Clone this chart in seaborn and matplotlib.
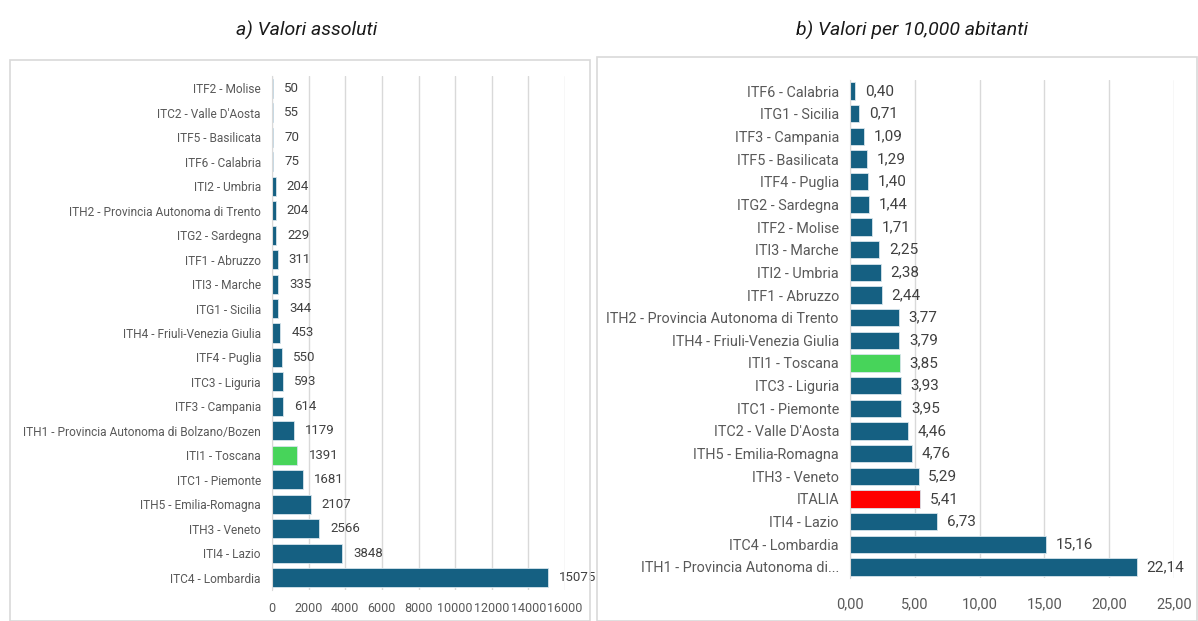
import matplotlib
matplotlib.use("Agg")
import matplotlib.pyplot as plt
from matplotlib.patches import Rectangle
import seaborn as sns
import pandas as pd

# a) absolute values
abs_regions = ['ITF2 - Molise', "ITC2 - Valle D'Aosta", 'ITF5 - Basilicata', 'ITF6 - Calabria',
               'ITI2 - Umbria', 'ITH2 - Provincia Autonoma di Trento', 'ITG2 - Sardegna',
               'ITF1 - Abruzzo', 'ITI3 - Marche', 'ITG1 - Sicilia', 'ITH4 - Friuli-Venezia Giulia',
               'ITF4 - Puglia', 'ITC3 - Liguria', 'ITF3 - Campania',
               'ITH1 - Provincia Autonoma di Bolzano/Bozen', 'ITI1 - Toscana', 'ITC1 - Piemonte',
               'ITH5 - Emilia-Romagna', 'ITH3 - Veneto', 'ITI4 - Lazio', 'ITC4 - Lombardia']
abs_values = [50, 55, 70, 75, 204, 204, 229, 311, 335, 344, 453, 550, 593, 614,
              1179, 1391, 1681, 2107, 2566, 3848, 15075]

# b) values per 10,000 inhabitants
rel_regions = ['ITF6 - Calabria', 'ITG1 - Sicilia', 'ITF3 - Campania', 'ITF5 - Basilicata',
               'ITF4 - Puglia', 'ITG2 - Sardegna', 'ITF2 - Molise', 'ITI3 - Marche',
               'ITI2 - Umbria', 'ITF1 - Abruzzo', 'ITH2 - Provincia Autonoma di Trento',
               'ITH4 - Friuli-Venezia Giulia', 'ITI1 - Toscana', 'ITC3 - Liguria',
               'ITC1 - Piemonte', "ITC2 - Valle D'Aosta", 'ITH5 - Emilia-Romagna',
               'ITH3 - Veneto', 'ITALIA', 'ITI4 - Lazio', 'ITC4 - Lombardia',
               'ITH1 - Provincia Autonoma di...']
rel_values = [0.40, 0.71, 1.09, 1.29, 1.40, 1.44, 1.71, 2.25, 2.38, 2.44, 3.77, 3.79,
              3.85, 3.93, 3.95, 4.46, 4.76, 5.29, 5.41, 6.73, 15.16, 22.14]

BLUE = '#156082'
GREEN = '#47d45a'
RED = '#ff0000'
TXT = '#595959'
GRID = '#d9d9d9'

def colour(name):
    if name == 'ITI1 - Toscana':
        return GREEN
    if name == 'ITALIA':
        return RED
    return BLUE

sns.set_style("white")
plt.rcParams['font.family'] = ['Roboto', 'DejaVu Sans']

fig = plt.figure(figsize=(11.98, 6.21), dpi=100)

# panel frames
fig.patches.append(Rectangle((10/1198, 0), 580/1198, 1 - 60/621, transform=fig.transFigure,
                             fill=False, edgecolor=GRID, lw=1.2))
fig.patches.append(Rectangle((597/1198, 0), 600/1198, 1 - 57/621, transform=fig.transFigure,
                             fill=False, edgecolor=GRID, lw=1.2))

fig.text(307/1198, 1 - 30/621, 'a) Valori assoluti', ha='center', va='center',
         fontsize=14, style='italic', color='#1a1a1a')
fig.text(912/1198, 1 - 30/621, 'b) Valori per 10,000 abitanti', ha='center', va='center',
         fontsize=14, style='italic', color='#1a1a1a')

ax1 = fig.add_axes([272/1198, 1 - 590/621, 293/1198, 514/621])
ax2 = fig.add_axes([850/1198, 1 - 578.3/621, 324/1198, 498.6/621])

df1 = pd.DataFrame({'region': abs_regions, 'value': abs_values})
df2 = pd.DataFrame({'region': rel_regions, 'value': rel_values})

sns.barplot(data=df1, x='value', y='region', hue='region', legend=False, ax=ax1,
            palette={r: colour(r) for r in abs_regions}, width=0.78, saturation=1,
            edgecolor='#d6e4ec', linewidth=0.6, orient='h')
sns.barplot(data=df2, x='value', y='region', hue='region', legend=False, ax=ax2,
            palette={r: colour(r) for r in rel_regions}, width=0.76, saturation=1,
            edgecolor='#d6e4ec', linewidth=0.6, orient='h')

for c in ax1.containers:
    ax1.bar_label(c, labels=[f'{v:.0f}' for v in c.datavalues], padding=8,
                  fontsize=9.5, color='#404040')
for c in ax2.containers:
    ax2.bar_label(c, labels=[f'{v:.2f}'.replace('.', ',') for v in c.datavalues], padding=7,
                  fontsize=11, color='#404040')

ax1.set_xlim(0, 16000)
ax1.set_xticks(range(0, 16001, 2000))
ax1.set_ylim(len(abs_regions) - 0.5, -0.5)
ax2.set_xlim(0, 25)
ax2.set_xticks([0, 5, 10, 15, 20, 25])
ax2.set_xticklabels([f'{t:.2f}'.replace('.', ',') for t in [0, 5, 10, 15, 20, 25]])
ax2.set_ylim(len(rel_regions) - 0.5, -0.5)

for ax, yfs, xfs, xpad in [(ax1, 8.6, 9, 9), (ax2, 10.4, 10.5, 14)]:
    ax.set_xlabel('')
    ax.set_ylabel('')
    ax.grid(axis='x', color=GRID, lw=1)
    ax.set_axisbelow(True)
    for s in ['top', 'right', 'bottom']:
        ax.spines[s].set_visible(False)
    ax.spines['left'].set_color(GRID)
    ax.tick_params(axis='y', length=0, pad=8, labelsize=yfs, labelcolor=TXT)
    ax.tick_params(axis='x', length=0, pad=xpad, labelsize=xfs, labelcolor=TXT)

fig.savefig('out.png', dpi=100)
